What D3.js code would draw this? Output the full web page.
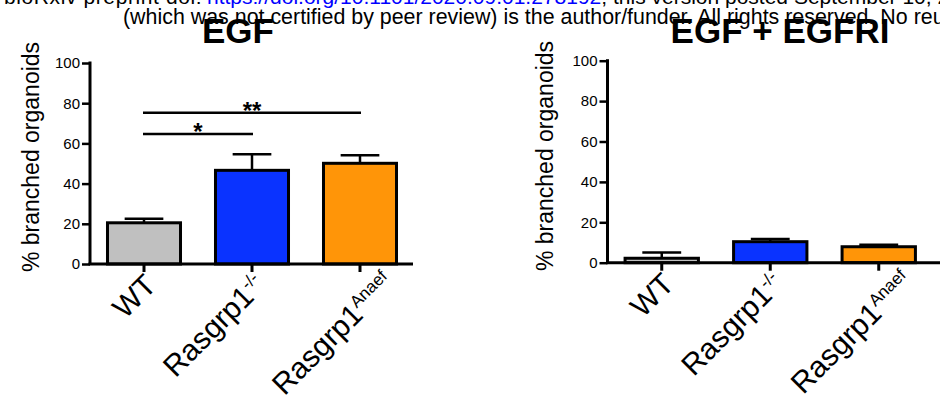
<!DOCTYPE html>
<html><head><meta charset="utf-8">
<script src="https://cdn.jsdelivr.net/npm/d3@7"></script>
<style>body{margin:0;background:#fff;} svg{display:block;font-family:"Liberation Sans",Arial,Helvetica,sans-serif;}</style>
</head><body><svg id="c" width="940" height="413"></svg>
<script>
// ---- data ----
const groups = ["WT", "Rasgrp1", "Rasgrp1"];
const superscripts = ["", "-/-", "Anaef"];
const barColors = ["#c0c0c0", "#0a33ff", "#ff9508"];
const egfMeans = [20.5, 46.6, 50.1];
const egfErrors = [2.0, 8.0, 4.0];
const egfriMeans = [2.2, 10.4, 7.9];
const egfriErrors = [2.8, 1.3, 1.0];
const yTicks = [0, 20, 40, 60, 80, 100];
const panelTitles = ["EGF", "EGF + EGFRI"];
const yLabel = "% branched organoids";
const sigFrom = [0, 0];
const sigTo = [1, 2];
const sigValues = [64.7, 75.3];
const sigLabels = ["*", "**"];
const headerLine1 = ["bioRxiv preprint doi: ", "https://doi.org/10.1101/2020.09.01.278192", "; this version posted September 10, 2020. The copyright holder for this preprint"];
const headerLine2 = "(which was not certified by peer review) is the author/funder. All rights reserved. No reuse allowed without permission.";

const svg = d3.select("#c");

// ---- header (bioRxiv banner) ----
const h1 = svg.append("text").attr("x", 4).attr("y", 3.5).attr("font-size", 21);
h1.append("tspan").attr("fill", "#000").attr("letter-spacing", 0.6).text(headerLine1[0]);
h1.append("tspan").attr("fill", "#0000ff").attr("x", 207).text(headerLine1[1]);
h1.append("tspan").attr("fill", "#000").text(headerLine1[2]);
svg.append("text").attr("x", 123).attr("y", 23.5).attr("font-size", 21.4).attr("fill", "#000").text(headerLine2);

// per-label end offsets (relative to tick / axis) for the rotated category labels
const labelEndDx = [14, 15, 36];
const labelEndDy = [23, 23, 21];

function panel(cfg) {
  const g = svg.append("g");
  const x = d3.scaleBand().domain(d3.range(groups.length))
    .range([cfg.x0, cfg.x0 + groups.length * cfg.step])
    .paddingInner(0.324).paddingOuter(0.162);
  const y = d3.scaleLinear().domain([0, 100]).range([cfg.y0, cfg.y100]);
  const bw = x.bandwidth();
  const capW = bw * 0.53;

  // error bars (upper only)
  const eg = g.append("g").attr("stroke", "#000").attr("stroke-width", 2.5);
  cfg.means.forEach((m, i) => {
    const cx = x(i) + bw / 2;
    eg.append("line").attr("x1", cx).attr("x2", cx).attr("y1", y(m)).attr("y2", y(m + cfg.errs[i]));
    eg.append("line").attr("x1", cx - capW / 2).attr("x2", cx + capW / 2)
      .attr("y1", y(m + cfg.errs[i])).attr("y2", y(m + cfg.errs[i]));
  });

  // bars
  g.selectAll("rect.bar").data(cfg.means).join("rect").attr("class", "bar")
    .attr("x", (d, i) => x(i)).attr("width", bw)
    .attr("y", d => y(d)).attr("height", d => y(0) - y(d))
    .attr("fill", (d, i) => barColors[i]).attr("stroke", "#000").attr("stroke-width", 3);

  // y axis
  const ya = g.append("g").attr("transform", `translate(${cfg.x0},0)`)
    .call(d3.axisLeft(y).tickValues(yTicks).tickSize(8).tickSizeOuter(0).tickPadding(2));
  ya.select(".domain").attr("stroke-width", 3).attr("d", `M0,${cfg.y100 - 1.5}V${cfg.y0}`);
  ya.selectAll(".tick line").attr("stroke-width", 2.5);
  ya.selectAll(".tick text").attr("font-size", 15).attr("fill", "#000")
    .attr("font-family", "'Liberation Sans',Arial,sans-serif");

  // x axis
  const xa = g.append("g").attr("transform", `translate(0,${cfg.y0})`)
    .call(d3.axisBottom(x).tickSize(8).tickFormat(""));
  xa.select(".domain").remove();
  xa.selectAll(".tick line").attr("stroke-width", 3);
  g.append("line").attr("x1", cfg.x0 - 1.5).attr("x2", cfg.xEnd).attr("y1", cfg.y0).attr("y2", cfg.y0)
    .attr("stroke", "#000").attr("stroke-width", 3);

  // x labels
  groups.forEach((name, i) => {
    const tx = x(i) + bw / 2 + labelEndDx[i], ty = cfg.y0 + labelEndDy[i];
    const t = g.append("text").attr("text-anchor", "end")
      .attr("transform", `translate(${tx},${ty}) rotate(-45)`)
      .attr("font-size", 30).attr("fill", "#000");
    t.append("tspan").text(name);
    if (superscripts[i]) t.append("tspan").attr("font-size", 17).attr("dy", -11).text(superscripts[i]);
  });

  // y label
  g.append("text").attr("text-anchor", "middle")
    .attr("transform", `translate(${cfg.labelX},${cfg.labelY}) rotate(-90)`)
    .attr("font-size", 23).attr("fill", "#000").text(yLabel);

  // title
  g.append("text").attr("x", cfg.titleX).attr("y", 43).attr("text-anchor", "middle")
    .attr("font-size", 35).attr("font-weight", "bold").attr("fill", "#000").text(cfg.title);

  // significance brackets
  if (cfg.sig) {
    sigValues.forEach((v, k) => {
      const xa1 = x(sigFrom[k]) + bw / 2, xa2 = x(sigTo[k]) + bw / 2;
      g.append("line").attr("x1", xa1 - 1).attr("x2", xa2 + 1).attr("y1", y(v)).attr("y2", y(v))
        .attr("stroke", "#000").attr("stroke-width", 2.5);
      g.append("text").attr("x", (xa1 + xa2) / 2).attr("y", y(v) + 6).attr("text-anchor", "middle")
        .attr("font-size", 24).attr("font-weight", "bold").attr("fill", "#000").text(sigLabels[k]);
    });
  }
}

panel({x0: 90, y0: 264, y100: 63, step: 108, xEnd: 413, means: egfMeans, errs: egfErrors,
  labelX: 39, labelY: 157, titleX: 238, title: panelTitles[0], sig: true});
panel({x0: 607.5, y0: 262.7, y100: 60.7, step: 108.5, xEnd: 945, means: egfriMeans, errs: egfriErrors,
  labelX: 553, labelY: 156, titleX: 780, title: panelTitles[1], sig: false});
</script></body></html>
